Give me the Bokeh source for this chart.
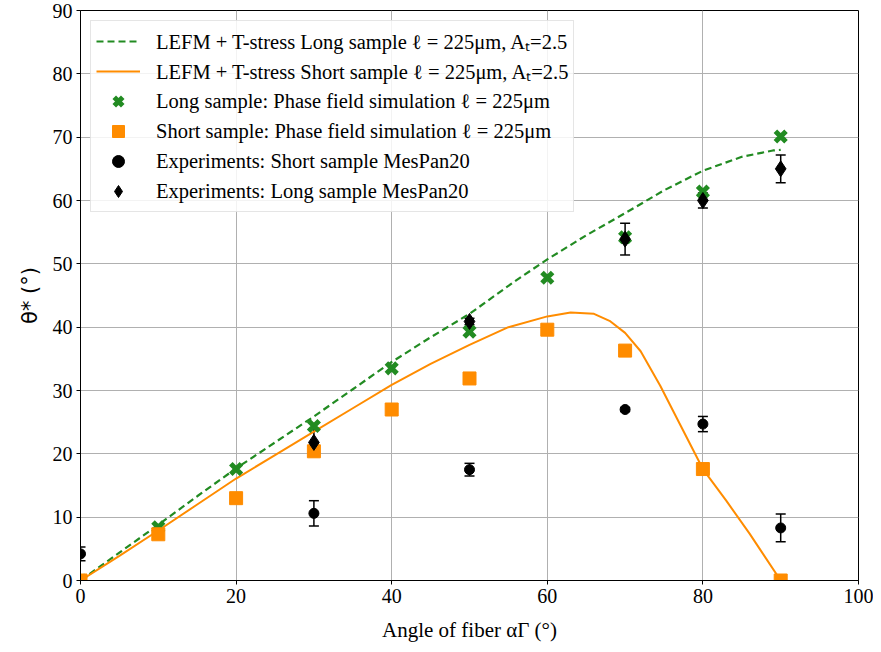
import numpy as np
from bokeh.plotting import figure
from bokeh.models import (ColumnDataSource, Whisker, TeeHead, Legend, LegendItem,
                          Range1d, FixedTicker)
from bokeh.embed import file_html
from bokeh.resources import INLINE

# ---------------- data ----------------
x_ticks = [0, 20, 40, 60, 80, 100]
y_ticks = [0, 10, 20, 30, 40, 50, 60, 70, 80, 90]

lefm_long_angle = [0, 5, 10, 15, 20, 25, 30, 35, 40, 45, 50, 56, 60, 65, 70, 75, 80, 85, 89, 90]
lefm_long_theta = [0, 4.4, 8.8, 13.3, 17.7, 21.8, 25.9, 30.2, 34.5, 38.4, 42.1, 47.4, 50.7, 54.5,
                   58.0, 61.6, 64.7, 66.9, 67.9, 68.0]

lefm_short_angle = [0, 5, 10, 15, 20, 25, 30, 35, 40, 45, 50, 55, 60, 63, 66, 68, 70, 72, 74.5,
                    77, 80, 83, 86, 90]
lefm_short_theta = [0, 3.9, 7.9, 12.0, 16.1, 19.8, 23.5, 27.2, 30.9, 34.2, 37.2, 40.0, 41.7, 42.3,
                    42.1, 41.0, 39.1, 36.2, 30.8, 24.8, 17.6, 12.6, 7.4, 0]

pf_angle = [0, 10, 20, 30, 40, 50, 60, 70, 80, 90]
pf_long = [0, 8.4, 17.6, 24.4, 33.5, 39.3, 47.8, 54.2, 61.4, 70.1]
pf_short = [0, 7.3, 13.0, 20.4, 27.0, 31.9, 39.6, 36.3, 17.6, 0]

exp_short_angle = [0, 30, 50, 70, 80, 90]
exp_short_theta = [4.2, 10.6, 17.5, 27.0, 24.7, 8.3]
exp_short_err = [1.1, 2.0, 1.0, 0.3, 1.2, 2.2]

exp_long_angle = [30, 50, 70, 80, 90]
exp_long_theta = [21.8, 40.9, 53.9, 60.0, 65.0]
exp_long_err = [2.2, 0.5, 2.5, 1.2, 2.2]

labels = [
    "LEFM + T-stress Long sample \u2113 = 225\u03bcm, A\u209c=2.5",
    "LEFM + T-stress Short sample \u2113 = 225\u03bcm, A\u209c=2.5",
    "Long sample: Phase field simulation \u2113 = 225\u03bcm",
    "Short sample: Phase field simulation \u2113 = 225\u03bcm",
    "Experiments: Short sample MesPan20",
    "Experiments: Long sample MesPan20",
]
x_label = "Angle of fiber \u03b1\u0393 (\u00b0)"
y_label = "\u03b8* (\u00b0)"

GREEN = "#228B22"
ORANGE = "#FF8C00"
SERIF = "Liberation Serif"

W, H = 873, 644
BL, BR, BT, BB = 80, 15, 10, 64

p = figure(width=W, height=H, output_backend="svg", toolbar_location=None,
           x_range=Range1d(0, 100), y_range=Range1d(0, 90),
           min_border_left=BL, min_border_right=BR, min_border_top=BT, min_border_bottom=BB)
p.background_fill_color = "white"
p.border_fill_color = "white"
p.outline_line_color = "black"
p.outline_line_width = 1

p.xaxis.ticker = FixedTicker(ticks=x_ticks)
p.yaxis.ticker = FixedTicker(ticks=y_ticks)
p.grid.grid_line_color = "#b0b0b0"
p.grid.grid_line_width = 1
p.axis.axis_line_color = "black"
p.axis.major_tick_line_color = "black"
p.axis.major_tick_out = 4
p.axis.major_tick_in = 0
p.axis.minor_tick_line_color = None
p.axis.major_label_text_font = SERIF
p.axis.major_label_text_font_size = "20px"
p.axis.major_label_text_color = "black"
p.axis.major_label_standoff = 4

p.yaxis.axis_label = y_label
p.yaxis.axis_label_text_font = "DejaVu Sans"
p.yaxis.axis_label_text_font_style = "normal"
p.yaxis.axis_label_text_font_size = "21px"
p.yaxis.axis_label_text_color = "black"
p.yaxis.axis_label_standoff = 8

p.xaxis.axis_label = x_label
p.xaxis.axis_label_text_font = SERIF
p.xaxis.axis_label_text_font_style = "normal"
p.xaxis.axis_label_text_font_size = "21px"
p.xaxis.axis_label_text_color = "black"
p.xaxis.axis_label_standoff = 12

# curves
r_long = p.line(lefm_long_angle, lefm_long_theta, line_color=GREEN, line_width=2.2, line_dash="7 4")
r_short = p.line(lefm_short_angle, lefm_short_theta, line_color=ORANGE, line_width=2)

# phase field points
r_pfl = p.scatter(pf_angle, pf_long, marker="x", size=15, line_color=GREEN, line_width=5)
r_pfs = p.scatter(pf_angle, pf_short, marker="square", size=13, fill_color=ORANGE, line_color=ORANGE)

# experiments with error bars
src_s = ColumnDataSource(dict(x=exp_short_angle, y=exp_short_theta,
                              lo=[a - b for a, b in zip(exp_short_theta, exp_short_err)],
                              hi=[a + b for a, b in zip(exp_short_theta, exp_short_err)]))
src_l = ColumnDataSource(dict(x=exp_long_angle, y=exp_long_theta,
                              lo=[a - b for a, b in zip(exp_long_theta, exp_long_err)],
                              hi=[a + b for a, b in zip(exp_long_theta, exp_long_err)]))
for src in (src_s, src_l):
    p.add_layout(Whisker(source=src, base="x", lower="lo", upper="hi",
                         line_color="black", line_width=1.5,
                         upper_head=TeeHead(size=10, line_color="black", line_width=1.5),
                         lower_head=TeeHead(size=10, line_color="black", line_width=1.5)))
r_es = p.scatter("x", "y", source=src_s, marker="circle", size=10, fill_color="black", line_color="black")
r_el = p.scatter("x", "y", source=src_l, marker="diamond", size=16, fill_color="black", line_color="black")

legend = Legend(items=[LegendItem(label=labels[0], renderers=[r_long]),
                       LegendItem(label=labels[1], renderers=[r_short]),
                       LegendItem(label=labels[2], renderers=[r_pfl]),
                       LegendItem(label=labels[3], renderers=[r_pfs]),
                       LegendItem(label=labels[4], renderers=[r_es]),
                       LegendItem(label=labels[5], renderers=[r_el])],
                location="top_left")
legend.label_text_font = SERIF
legend.label_text_font_size = "20.5px"
legend.label_text_color = "black"
legend.glyph_width = 44
legend.glyph_height = 30
legend.label_height = 30
legend.spacing = 0
legend.padding = 5
legend.margin = 10
legend.label_standoff = 16
legend.border_line_color = "#cccccc"
legend.border_line_width = 1
legend.background_fill_alpha = 0.85
p.add_layout(legend)

open("out.html", "w").write(file_html(p, INLINE))
